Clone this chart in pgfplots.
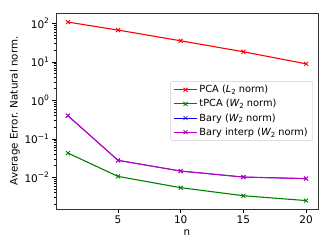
\documentclass[border=0pt]{standalone}
\usepackage{pgfplots}
\pgfplotsset{compat=1.18}
\usepackage{fontspec}
\setmainfont{DejaVu Sans}
\definecolor{mplgreen}{rgb}{0,0.5,0}
\definecolor{mplmag}{rgb}{0.75,0,0.75}
\newcommand{\sps}[1]{\raisebox{0.75ex}{\fontsize{7.5pt}{8pt}\selectfont #1}}
\newcommand{\sbs}[1]{\raisebox{-0.35ex}{\fontsize{7pt}{8pt}\selectfont #1}}
\begin{document}
\begin{tikzpicture}
\begin{axis}[
  scale only axis, width=262pt, height=196pt,
  ymode=log, xmin=0.05, xmax=20.95, ymin=0.00151, ymax=186,
  xtick={5,10,15,20}, xticklabels={5,10,15,20},
  ytick={0.01,0.1,1,10,100},
  yticklabels={10\sps{\textminus2},10\sps{\textminus1},10\sps{0},10\sps{1},10\sps{2}},
  minor ytick={0.002,0.003,0.004,0.005,0.006,0.007,0.008,0.009,0.02,0.03,0.04,0.05,0.06,0.07,0.08,0.09,0.2,0.3,0.4,0.5,0.6,0.7,0.8,0.9,2,3,4,5,6,7,8,9,20,30,40,50,60,70,80,90},
  tick align=outside, xtick pos=bottom, ytick pos=left,
  major tick length=3.5pt, minor tick length=2pt,
  every tick/.style={black, line width=0.6pt},
  axis line style={line width=0.8pt, black!80},
  tick label style={font=\fontsize{10.5pt}{12pt}\selectfont},
  xlabel={n}, ylabel={Average Error. Natural norm.},
  label style={font=\fontsize{10.3pt}{12pt}\selectfont},
  xlabel style={at={(axis description cs:0.5,-0.122)}, anchor=center},
  ylabel style={at={(axis description cs:-0.157,0.5)}, anchor=center},
  legend style={at={(axis description cs:1,0.5)}, xshift=-5pt, anchor=east,
    font=\fontsize{9.8pt}{11pt}\selectfont, draw=black!20, rounded corners=2pt,
    fill=white, fill opacity=0.8, text opacity=1, row sep=1.2pt,
    inner xsep=3pt, inner ysep=2pt},
  legend cell align=left,
  legend image code/.code={\draw[mark repeat=2,mark phase=2] plot coordinates {(0cm,0cm) (0.4cm,0cm) (0.8cm,0cm)};},
  every axis plot/.append style={line width=1.1pt, mark=x, mark size=2.8pt, mark options={line width=0.9pt}},
]
\addplot[red] coordinates {(1,108) (5,67) (10,35.3) (15,18.3) (20,8.9)};
\addlegendentry{PCA ({\itshape L}\sbs{2} norm)}
\addplot[mplgreen] coordinates {(1,0.0428) (5,0.0106) (10,0.0054) (15,0.00334) (20,0.0025)};
\addlegendentry{tPCA ({\itshape W}\sbs{2} norm)}
\addplot[blue, line width=0.8pt, mark options={line width=0.6pt}] coordinates {(1,0.40) (5,0.0277) (10,0.0146) (15,0.0102) (20,0.0093)};
\addlegendentry{Bary ({\itshape W}\sbs{2} norm)}
\addplot[mplmag] coordinates {(1,0.40) (5,0.0277) (10,0.0146) (15,0.0102) (20,0.0093)};
\addlegendentry{Bary interp ({\itshape W}\sbs{2} norm)}
\end{axis}
\useasboundingbox ([xshift=-56pt,yshift=-40pt]current axis.south west) rectangle ([xshift=14pt,yshift=13pt]current axis.north east);
\end{tikzpicture}
\end{document}
